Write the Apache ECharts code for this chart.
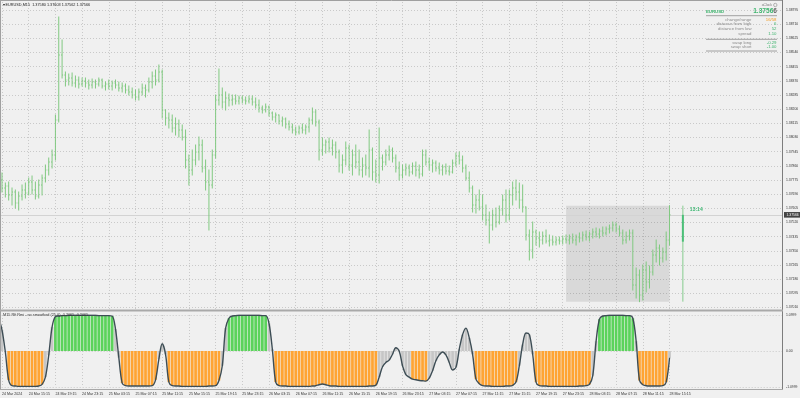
<!DOCTYPE html>
<html><head><meta charset="utf-8">
<script src="https://cdn.jsdelivr.net/npm/echarts/dist/echarts.min.js"></script>
<style>html,body{margin:0;padding:0;background:#f0f0f0}#c{width:800px;height:398px}</style>
</head><body><div id="c"></div><script>
// ---------- data ----------
const symbolTitle = 'EURUSD,M15';
const lastM15 = [1.37580, 1.37603, 1.37562, 1.37566];
const lastClose = 1.37566;
const oscTitle = 'M15 Rft Rmi - no smoothed (25,0) -0.2065 -0.2065';

// 30-minute bars from 24 Mar 10:45, [open, high, low, close]
const ohlc = [
[1.37745,1.37805,1.37715,1.37775],[1.37775,1.37817,1.37703,1.37727],[1.37727,1.37757,1.37673,1.37739],[1.37739,1.37763,1.37655,1.37685],
[1.37685,1.37727,1.37625,1.37703],[1.37703,1.37715,1.37607,1.37637],[1.37637,1.37703,1.37595,1.37679],[1.37679,1.37745,1.37655,1.37715],
[1.37715,1.37757,1.37667,1.37697],[1.37697,1.37787,1.37685,1.37763],[1.37763,1.37799,1.37691,1.37715],[1.37715,1.37763,1.37661,1.37679],
[1.37679,1.37775,1.37667,1.37745],[1.37745,1.37805,1.37685,1.37787],[1.37787,1.37865,1.37763,1.37835],[1.37835,1.37907,1.37805,1.37883],
[1.37883,1.37955,1.37847,1.37925],[1.37925,1.38165,1.37895,1.38135],[1.38135,1.38753,1.38123,1.38525],[1.38525,1.38615,1.38387,1.38405],
[1.38405,1.38423,1.38339,1.38375],[1.38375,1.38411,1.38345,1.38387],[1.38387,1.38417,1.38339,1.38357],[1.38357,1.38399,1.38333,1.38375],
[1.38375,1.38393,1.38327,1.38351],[1.38351,1.38387,1.38339,1.38369],[1.38369,1.38387,1.38333,1.38357],[1.38357,1.38375,1.38321,1.38345],
[1.38345,1.38381,1.38327,1.38363],[1.38363,1.38375,1.38327,1.38351],[1.38351,1.38387,1.38339,1.38375],[1.38375,1.38381,1.38327,1.38339],
[1.38339,1.38363,1.38315,1.38351],[1.38351,1.38375,1.38321,1.38339],[1.38339,1.38369,1.38315,1.38357],[1.38357,1.38375,1.38327,1.38345],
[1.38345,1.38363,1.38309,1.38327],[1.38327,1.38357,1.38303,1.38339],[1.38339,1.38351,1.38297,1.38315],[1.38315,1.38339,1.38285,1.38303],
[1.38303,1.38327,1.38267,1.38285],[1.38285,1.38315,1.38255,1.38273],[1.38273,1.38321,1.38255,1.38303],[1.38303,1.38351,1.38285,1.38327],
[1.38327,1.38345,1.38273,1.38315],[1.38315,1.38387,1.38303,1.38363],[1.38363,1.38423,1.38327,1.38399],[1.38399,1.38435,1.38345,1.38375],
[1.38375,1.38465,1.38363,1.38423],[1.38423,1.38435,1.38147,1.38195],[1.38195,1.38195,1.38105,1.38147],[1.38147,1.38177,1.38087,1.38135],
[1.38135,1.38165,1.38063,1.38087],[1.38087,1.38147,1.38045,1.38111],[1.38111,1.38135,1.38033,1.38075],[1.38075,1.38105,1.38015,1.38033],
[1.38033,1.38075,1.37847,1.37895],[1.37895,1.37925,1.37745,1.37835],[1.37835,1.37955,1.37805,1.37895],[1.37895,1.37985,1.37865,1.37943],
[1.37943,1.38033,1.37895,1.37985],[1.37985,1.38015,1.37823,1.37847],[1.37847,1.37895,1.37715,1.37763],[1.37763,1.37835,1.37475,1.37745],
[1.37745,1.37955,1.37727,1.37925],[1.37925,1.38285,1.37907,1.38255],[1.38255,1.38441,1.38225,1.38285],[1.38285,1.38327,1.38207,1.38243],
[1.38243,1.38303,1.38195,1.38267],[1.38267,1.38291,1.38219,1.38255],[1.38255,1.38285,1.38225,1.38261],[1.38261,1.38285,1.38231,1.38249],
[1.38249,1.38279,1.38231,1.38267],[1.38267,1.38279,1.38237,1.38255],[1.38255,1.38273,1.38231,1.38249],[1.38249,1.38279,1.38237,1.38261],
[1.38261,1.38279,1.38225,1.38243],[1.38243,1.38267,1.38207,1.38225],[1.38225,1.38255,1.38183,1.38207],[1.38207,1.38219,1.38177,1.38195],
[1.38195,1.38231,1.38183,1.38213],[1.38213,1.38219,1.38159,1.38177],[1.38177,1.38183,1.38135,1.38153],[1.38153,1.38177,1.38123,1.38165],
[1.38165,1.38165,1.38111,1.38129],[1.38129,1.38153,1.38099,1.38141],[1.38141,1.38147,1.38087,1.38111],[1.38111,1.38129,1.38075,1.38093],
[1.38093,1.38111,1.38057,1.38075],[1.38075,1.38093,1.38045,1.38063],[1.38063,1.38099,1.38051,1.38087],[1.38087,1.38111,1.38057,1.38075],
[1.38075,1.38105,1.38051,1.38093],[1.38093,1.38147,1.38063,1.38135],[1.38135,1.38207,1.38111,1.38183],[1.38183,1.38195,1.38099,1.38123],
[1.38123,1.38135,1.37895,1.37955],[1.37955,1.38027,1.37925,1.37985],[1.37985,1.38015,1.37937,1.38003],[1.38003,1.38027,1.37943,1.37967],
[1.37967,1.38015,1.37925,1.37985],[1.37985,1.38003,1.37907,1.37943],[1.37943,1.37955,1.37823,1.37865],[1.37865,1.37925,1.37817,1.37895],
[1.37895,1.38003,1.37865,1.37967],[1.37967,1.37985,1.37835,1.37865],[1.37865,1.37955,1.37805,1.37925],[1.37925,1.37985,1.37847,1.37883],
[1.37883,1.37955,1.37805,1.37835],[1.37835,1.37907,1.37793,1.37865],[1.37865,1.37925,1.37805,1.37847],[1.37847,1.38075,1.37793,1.37955],
[1.37955,1.37967,1.37775,1.37823],[1.37823,1.37895,1.37763,1.37805],[1.37805,1.38087,1.37757,1.37907],[1.37907,1.37925,1.37835,1.37883],
[1.37883,1.37955,1.37865,1.37925],[1.37925,1.37979,1.37895,1.37955],[1.37955,1.37967,1.37883,1.37907],[1.37907,1.37925,1.37823,1.37847],
[1.37847,1.37883,1.37775,1.37805],[1.37805,1.37865,1.37787,1.37835],[1.37835,1.37871,1.37805,1.37847],[1.37847,1.37865,1.37799,1.37823],
[1.37823,1.37877,1.37811,1.37859],[1.37859,1.37883,1.37799,1.37835],[1.37835,1.37865,1.37787,1.37811],[1.37811,1.37955,1.37799,1.37925],
[1.37925,1.37955,1.37865,1.37883],[1.37883,1.37907,1.37835,1.37865],[1.37865,1.37895,1.37823,1.37877],[1.37877,1.37889,1.37829,1.37847],
[1.37847,1.37877,1.37811,1.37835],[1.37835,1.37865,1.37805,1.37853],[1.37853,1.37871,1.37811,1.37829],[1.37829,1.37859,1.37805,1.37823],
[1.37823,1.37895,1.37817,1.37877],[1.37877,1.37937,1.37859,1.37919],[1.37919,1.37943,1.37871,1.37895],[1.37895,1.37919,1.37823,1.37847],
[1.37847,1.37865,1.37775,1.37787],[1.37787,1.37823,1.37703,1.37727],[1.37727,1.37739,1.37583,1.37625],[1.37625,1.37685,1.37577,1.37655],
[1.37655,1.37715,1.37595,1.37613],[1.37613,1.37685,1.37535,1.37565],[1.37565,1.37625,1.37505,1.37535],[1.37535,1.37583,1.37397,1.37505],
[1.37505,1.37595,1.37475,1.37565],[1.37565,1.37607,1.37493,1.37523],[1.37523,1.37619,1.37511,1.37595],[1.37595,1.37685,1.37565,1.37655],
[1.37655,1.37715,1.37523,1.37565],[1.37565,1.37715,1.37535,1.37685],[1.37685,1.37763,1.37625,1.37727],[1.37727,1.37775,1.37655,1.37703],
[1.37703,1.37757,1.37607,1.37655],[1.37655,1.37745,1.37583,1.37613],[1.37613,1.37613,1.37415,1.37445],[1.37445,1.37475,1.37295,1.37355],
[1.37355,1.37523,1.37307,1.37463],[1.37463,1.37475,1.37385,1.37427],[1.37427,1.37463,1.37373,1.37415],[1.37415,1.37463,1.37391,1.37439],
[1.37439,1.37475,1.37397,1.37409],[1.37409,1.37445,1.37379,1.37415],[1.37415,1.37439,1.37385,1.37403],[1.37403,1.37433,1.37385,1.37415],
[1.37415,1.37433,1.37391,1.37409],[1.37409,1.37439,1.37391,1.37421],[1.37421,1.37445,1.37397,1.37415],[1.37415,1.37445,1.37391,1.37427],
[1.37427,1.37451,1.37397,1.37415],[1.37415,1.37445,1.37385,1.37433],[1.37433,1.37457,1.37403,1.37427],[1.37427,1.37463,1.37409,1.37445],
[1.37445,1.37469,1.37415,1.37433],[1.37433,1.37463,1.37409,1.37451],[1.37451,1.37481,1.37427,1.37463],[1.37463,1.37487,1.37433,1.37451],
[1.37451,1.37481,1.37427,1.37469],[1.37469,1.37493,1.37439,1.37457],[1.37457,1.37493,1.37445,1.37481],[1.37481,1.37505,1.37457,1.37487],
[1.37487,1.37523,1.37469,1.37505],[1.37505,1.37517,1.37463,1.37481],[1.37481,1.37499,1.37439,1.37457],[1.37457,1.37475,1.37391,1.37415],
[1.37415,1.37463,1.37397,1.37439],[1.37439,1.37475,1.37415,1.37457],[1.37457,1.37475,1.37115,1.37145],[1.37145,1.37247,1.37067,1.37205],
[1.37205,1.37235,1.37045,1.37085],[1.37085,1.37265,1.37055,1.37235],[1.37235,1.37283,1.37103,1.37163],[1.37163,1.37259,1.37127,1.37223],
[1.37223,1.37355,1.37205,1.37325],[1.37325,1.37415,1.37283,1.37367],[1.37367,1.37385,1.37265,1.37307],[1.37307,1.37367,1.37283,1.37343],
[1.37343,1.37463,1.37295,1.37415],[1.37415,1.37621,1.37385,1.37566]
];

// oscillator value per bar
const osc = [
1.00,0.64,-0.03,-0.89,-1.06,-1.07,-1.08,-1.08,-1.08,-1.08,-1.08,-1.08,-1.07,-1.02,-0.80,-0.13,0.73,1.05,
1.07,1.08,1.08,1.09,1.09,1.09,1.09,1.09,1.09,1.09,1.09,1.09,1.08,1.08,1.08,1.08,1.07,
0.67,-0.20,-0.98,
-1.06,-1.07,-1.07,-1.07,-1.07,-1.07,-1.07,-1.07,-1.06,
-0.88,-0.25,0.22,-0.10,-0.95,
-1.06,-1.07,-1.07,-1.08,-1.08,-1.08,-1.08,-1.08,-1.08,-1.08,-1.08,-1.07,-1.07,-1.06,
-0.90,-0.45,0.70,1.00,
1.07,1.08,1.09,1.09,1.09,1.09,1.09,1.09,1.09,1.08,1.08,
0.84,0.05,-0.95,
-1.06,-1.07,-1.07,-1.08,-1.08,-1.08,-1.08,-1.08,-1.08,-1.08,-1.07,-1.06,
-1.03,-1.01,-1.03,
-1.06,-1.07,-1.07,-1.08,-1.08,-1.08,-1.08,-1.08,-1.08,-1.08,-1.08,-1.08,-1.07,-1.07,-1.05,
-0.80,-0.48,-0.35,-0.28,-0.10,0.10,0.00,-0.45,-0.72,-0.80,-0.86,-0.88,-0.90,-0.91,-0.92,-0.83,
-0.60,-0.30,-0.12,-0.03,-0.12,-0.35,-0.58,-0.50,0.05,0.50,0.70,0.40,-0.10,-0.86,-1.00,
-1.06,-1.07,-1.07,-1.08,-1.08,-1.08,-1.08,-1.07,-1.07,
-1.05,-0.95,-0.45,0.20,0.55,0.50,-0.10,-0.95,
-1.06,-1.07,-1.07,-1.08,-1.08,-1.08,-1.08,-1.08,-1.08,-1.08,-1.08,-1.08,-1.07,-1.07,-1.06,
-1.02,-0.75,0.30,0.97,1.07,
1.08,1.09,1.09,1.09,1.09,1.09,1.08,1.08,
1.00,0.30,-0.90,-1.03,
-1.06,-1.07,-1.07,-1.07,-1.07,-1.06,
-0.95,-0.2065
];

// current day: [category, open, high, low, close]
const dayCandle = ['28 Mar 17:15', 1.37405, 1.37621, 1.37045, 1.37566];
const dayTimer = '13:14';
// day box: [from category, to category, low, high]
const dayBox = ['27 Mar 23:45', '28 Mar 15:15', 1.37045, 1.37621];

const tickLabels = ['24 Mar 2024','24 Mar 15:15','24 Mar 19:15','24 Mar 23:15','25 Mar 03:15','25 Mar 07:15','25 Mar 11:15',
'25 Mar 15:15','25 Mar 19:15','25 Mar 23:15','26 Mar 03:15','26 Mar 07:15','26 Mar 11:15','26 Mar 15:15','26 Mar 19:15',
'26 Mar 23:15','27 Mar 03:15','27 Mar 07:15','27 Mar 11:15','27 Mar 15:15','27 Mar 19:15','27 Mar 23:15','28 Mar 03:15',
'28 Mar 07:15','28 Mar 11:15','28 Mar 15:15'];
const tickAt = tickLabels.slice(); tickAt[0] = '24 Mar 11:15';

const infoLabels = ['change/range','distance from high','distance from low','spread','swap long','swap short'];
const infoValues = ['16/58','6','52','1.10','-0.29','-1.00'];

// ---------- categories (30-minute slots) ----------
const MONTHS = ['Jan','Feb','Mar','Apr','May','Jun','Jul','Aug','Sep','Oct','Nov','Dec'];
const startTime = Date.UTC(2024, 2, 24, 10, 45);
const SLOT_COUNT = 236;
const categories = [];
for (let i = 0; i < SLOT_COUNT; i++) {
  const d = new Date(startTime + i * 30 * 60000);
  categories.push(d.getUTCDate() + ' ' + MONTHS[d.getUTCMonth()] + ' ' +
    String(d.getUTCHours()).padStart(2, '0') + ':' + String(d.getUTCMinutes()).padStart(2, '0'));
}

// ---------- chart ----------
const FONT = '"Liberation Sans", Arial, sans-serif';
const BAR_COLOR = '#80c980';
const GREEN = '#5bd35b', ORANGE = '#ffa433', GRAY = '#c6c6c6';
const chart = echarts.init(document.getElementById('c'), null, {renderer: 'canvas'});

const ohlcData = ohlc.map((d, i) => [i, d[0], d[1], d[2], d[3]]);
const oscData = osc.map(v => ({value: v, itemStyle: {color: v > 0.85 ? GREEN : (v < -0.84 ? ORANGE : GRAY)}}));
const isTick = (i, v) => tickAt.indexOf(v) >= 0;
const dotted = {show: true, lineStyle: {color: '#c9c9c9', width: 1, type: [1, 2]}};

function renderOhlc(params, api) {
  const i = api.value(0);
  const x = api.coord([i, api.value(2)])[0];
  const yO = api.coord([i, api.value(1)])[1];
  const yH = api.coord([i, api.value(2)])[1];
  const yL = api.coord([i, api.value(3)])[1];
  const yC = api.coord([i, api.value(4)])[1];
  const w = api.size([1, 0])[0] * 0.3;
  const st = {stroke: BAR_COLOR, lineWidth: 1};
  return {type: 'group', children: [
    {type: 'line', shape: {x1: x, y1: yH - 0.5, x2: x, y2: yL + 0.5}, style: st},
    {type: 'line', shape: {x1: x - w, y1: yO, x2: x, y2: yO}, style: st},
    {type: 'line', shape: {x1: x, y1: yC, x2: x + w, y2: yC}, style: st}
  ]};
}
function renderDay(params, api) {
  const i = api.value(0);
  const x = api.coord([i, api.value(2)])[0];
  const yO = api.coord([i, api.value(1)])[1];
  const yH = api.coord([i, api.value(2)])[1];
  const yL = api.coord([i, api.value(3)])[1];
  const yC = api.coord([i, api.value(4)])[1];
  return {type: 'group', children: [
    {type: 'line', shape: {x1: x, y1: yH, x2: x, y2: yL}, style: {stroke: '#86cc8e', lineWidth: 1}},
    {type: 'rect', shape: {x: x - 1, y: Math.min(yO, yC), width: 2, height: Math.abs(yO - yC)}, style: {fill: '#4cbf78'}},
    {type: 'text', x: x + 7, y: yH + 3.5, style: {text: dayTimer, fill: '#3db873', font: 'bold 5px ' + FONT, verticalAlign: 'middle', align: 'left'}}
  ]};
}

const txt = (x, y, text, opts) => Object.assign({type: 'text', x: x, y: y, z: 30,
  style: Object.assign({text: text, fill: '#333', font: '3.8px ' + FONT, align: 'left', verticalAlign: 'middle'}, opts || {})});
const hline = (x1, x2, y, color, w) => ({type: 'line', z: 30, shape: {x1: x1, y1: y, x2: x2, y2: y}, style: {stroke: color, lineWidth: w || 1}});
const vline = (x, y1, y2, color, w) => ({type: 'line', z: 30, shape: {x1: x, y1: y1, x2: x, y2: y2}, style: {stroke: color, lineWidth: w || 1}});

const infoY = [19.5, 24.2, 28.9, 33.6, 42.7, 47.3];
const graphics = [
  hline(0, 783, 0.5, '#a0a0a0'),
  vline(0.5, 0, 390, '#a0a0a0'),
  vline(782.5, 0, 390, '#7d7d7d'),
  {type: 'rect', z: 30, shape: {x: 0, y: 309.5, width: 783, height: 2}, style: {fill: '#a9a9a9'}},
  hline(0, 783, 389.5, '#a8a8a8'),
  txt(2.5, 5, '\u25BE ' + symbolTitle + '  ' + lastM15.map(v => v.toFixed(5)).join(' '), {fill: '#222'}),
  txt(3, 314.6, oscTitle, {fill: '#333'}),
  txt(772, 5, 'aClock', {fill: '#777', align: 'right', font: '3.4px ' + FONT}),
  {type: 'circle', z: 30, shape: {cx: 775.3, cy: 5, r: 1.7}, style: {fill: 'none', stroke: '#888', lineWidth: 0.6}},
  txt(706, 11.6, 'EURUSD', {fill: '#3db46d', font: 'bold 4.3px ' + FONT}),
  txt(777, 11.6, '{a|' + lastClose.toFixed(5).slice(0, -1) + '}{b|' + lastClose.toFixed(5).slice(-1) + '}', {
    align: 'right', rich: {
      a: {fill: '#3db46d', font: 'bold 6.6px ' + FONT, fontSize: 6.6, fontWeight: 'bold', fontFamily: FONT, color: '#3db46d'},
      b: {fill: '#666', font: 'bold 6.6px ' + FONT, fontSize: 6.6, fontWeight: 'bold', fontFamily: FONT, color: '#666'}
    }}),
  hline(706, 777, 15.7, '#8c8c8c', 0.8),
  hline(706, 777, 39.3, '#8c8c8c', 0.8),
  hline(706, 777, 51, '#8c8c8c', 0.8)
];
infoLabels.forEach((l, k) => {
  graphics.push(txt(751.5, infoY[k], l, {fill: '#8a8a8a', align: 'right', font: '4.3px ' + FONT}));
  graphics.push(txt(776.5, infoY[k], infoValues[k], {fill: k === 0 ? '#f39a1e' : '#3db46d', align: 'right', font: '4.3px ' + FONT}));
});

const option = {
  animation: false,
  backgroundColor: '#f0f0f0',
  textStyle: {fontFamily: FONT},
  grid: [
    {left: -1.33, right: 17, top: 2, bottom: 88, outerBoundsMode: 'none'},
    {left: 0, right: 17, top: 10, bottom: 90.5, outerBoundsMode: 'none'},
    {left: -1.33, right: 17, top: 315, bottom: 11, outerBoundsMode: 'none'}
  ],
  xAxis: [
    {gridIndex: 0, type: 'category', data: categories, boundaryGap: false,
      axisLine: {show: false}, axisTick: {show: false}, axisLabel: {show: false},
      splitLine: Object.assign({}, dotted, {interval: isTick})},
    {gridIndex: 1, type: 'value', show: false, min: 0, max: 1},
    {gridIndex: 2, type: 'category', data: categories, boundaryGap: false,
      axisLine: {show: false}, axisTick: {show: false},
      axisLabel: {show: true, interval: isTick, formatter: v => tickLabels[tickAt.indexOf(v)],
        align: 'left', margin: 5, fontSize: 3.6, color: '#333', fontFamily: FONT},
      splitLine: Object.assign({}, dotted, {interval: isTick})}
  ],
  yAxis: [
    {gridIndex: 0, type: 'value', min: 1.36995, max: 1.38843, show: false},
    {gridIndex: 1, type: 'value', position: 'right', min: 1.37010, max: 1.38795, interval: 0.00085,
      axisLine: {show: false}, axisTick: {show: false},
      axisLabel: {fontSize: 3.4, color: '#333', margin: 3, fontFamily: FONT, formatter: v => v.toFixed(5)},
      splitLine: dotted},
    {gridIndex: 2, type: 'value', position: 'right', min: -1.0999, max: 1.0999, interval: 1.0999,
      axisLine: {show: false}, axisTick: {show: false},
      axisLabel: {fontSize: 3.4, color: '#333', margin: 3, fontFamily: FONT,
        formatter: v => Math.abs(v) < 1e-9 ? '0.00' : v.toFixed(4)},
      splitLine: dotted}
  ],
  series: [
    {type: 'custom', name: 'price', xAxisIndex: 0, yAxisIndex: 0, z: 2,
      data: ohlcData, encode: {x: 0, y: [1, 2, 3, 4]}, renderItem: renderOhlc,
      markArea: {silent: true, itemStyle: {color: 'rgba(0,0,0,0.095)'},
        data: [[{xAxis: dayBox[0], yAxis: dayBox[3]}, {xAxis: dayBox[1], yAxis: dayBox[2]}]]},
      markLine: {silent: true, z: 1, symbol: ['none', 'none'], animation: false,
        lineStyle: {color: '#d3d3d3', width: 1, type: 'solid'},
        label: {position: 'end', distance: 1, formatter: lastClose.toFixed(5), color: '#fff',
          backgroundColor: '#444', padding: [1.3, 2.5], fontSize: 3.4, fontFamily: FONT},
        data: [[{coord: [categories[0], lastClose]}, {coord: [categories[SLOT_COUNT - 1], lastClose]}]]}
    },
    {type: 'custom', name: 'day', xAxisIndex: 0, yAxisIndex: 0, z: 3,
      data: [dayCandle], encode: {x: 0, y: [1, 2, 3, 4]}, renderItem: renderDay},
    {type: 'bar', name: 'osc', xAxisIndex: 2, yAxisIndex: 2, data: oscData, barCategoryGap: '18%', z: 2},
    {type: 'line', name: 'oscLine', xAxisIndex: 2, yAxisIndex: 2, data: osc, smooth: 0.35,
      symbol: 'none', showSymbol: false, z: 3, lineStyle: {color: '#3d4d55', width: 1.4}}
  ],
  graphic: graphics
};
chart.setOption(option);
</script></body></html>
